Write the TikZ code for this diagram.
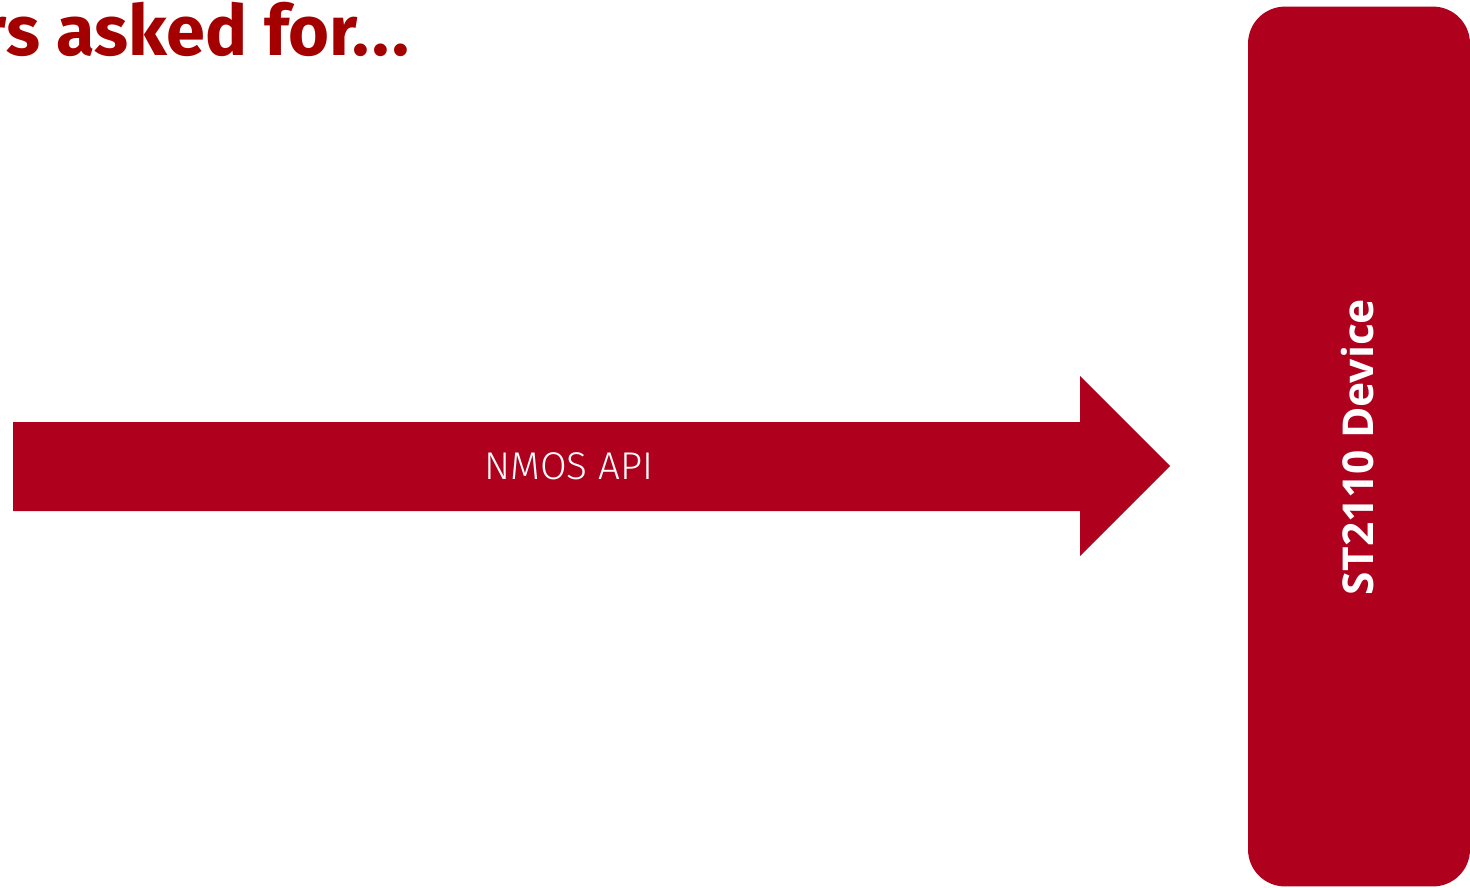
\documentclass[tikz,border=0pt]{standalone}
\usepackage{fontspec}
\setmainfont{Fira Sans}
\newfontfamily\devfont{Open Sans}
\newfontfamily\apifont{Fira Sans Light}
\definecolor{nmosred}{HTML}{AF001E}
\definecolor{titlered}{HTML}{A50000}
\tikzset{
  devbox/.style={fill=nmosred, rounded corners=0.74cm, minimum width=4.44cm, minimum height=17.6cm, inner sep=0pt},
  apilabel/.style={text=white, font=\apifont\fontsize{22}{26}\selectfont},
}
\begin{document}
\begin{tikzpicture}[x=0.02cm,y=-0.02cm]
            \useasboundingbox (0,0) rectangle (1470,887);
            \clip (0,0) rectangle (1470,887);
            \node[anchor=base east, text=titlered, inner sep=0pt, font=\fontsize{40}{44}\selectfont\bfseries] (title) at (410,55) {rs asked for.\kern2pt.\kern2pt.};
            \node[devbox] (device) at (1359,446.5) {};
            \node[rotate=90, text=white, font=\devfont\fontsize{24.2}{28}\selectfont\bfseries] (devtext) at (1358,447) {ST2110 Device};
            \fill[nmosred] (13,422) -- (1080,422) -- (1080,376) -- (1170,466) -- (1080,556) -- (1080,511) -- (13,511) -- cycle;
            \node[apilabel] (api) at (569,466) {NMOS API};
        \end{tikzpicture}
\end{document}
